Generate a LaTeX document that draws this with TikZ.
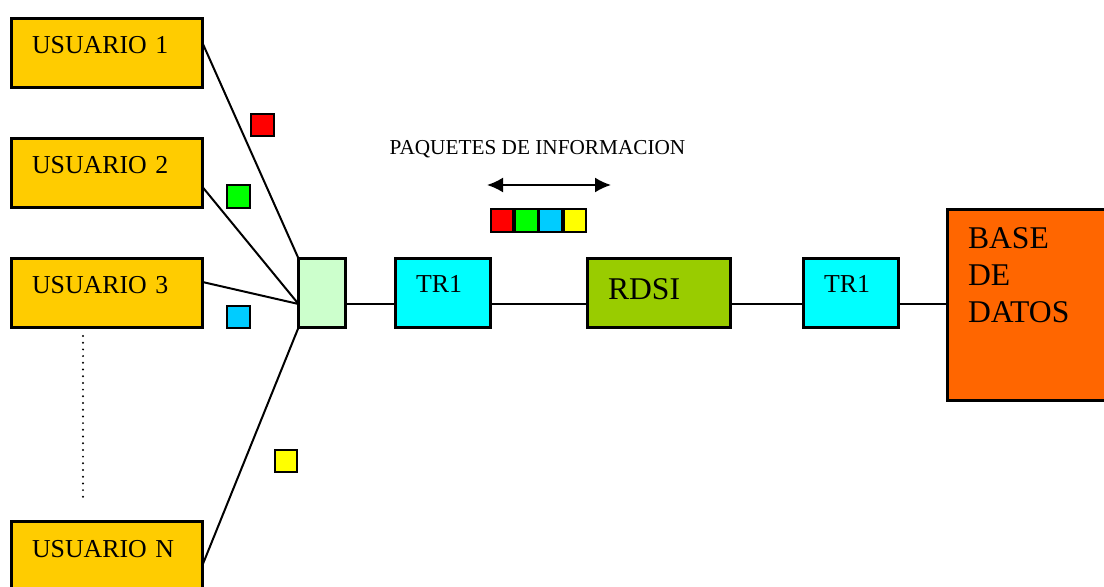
\documentclass[tikz,border=0pt]{standalone}
\usepackage{fontspec}
\setmainfont{Liberation Serif}
\usetikzlibrary{arrows.meta,calc}

\newlength{\pxl}
\setlength{\pxl}{0.02cm}

\definecolor{userfill}{HTML}{FFCC00}
\definecolor{trfill}{HTML}{00FFFF}
\definecolor{rdsifill}{HTML}{99CC00}
\definecolor{basefill}{HTML}{FF6600}
\definecolor{hubfill}{HTML}{CCFFCC}
\definecolor{pktgreen}{HTML}{00FF00}
\definecolor{pktcyan}{HTML}{00CCFF}
\definecolor{pktyellow}{HTML}{FFFF00}

\begin{document}
\begin{tikzpicture}[x = 0.02cm, y = -0.02cm, > = {Latex[length = 0.32cm, width = 0.3cm]},
	box/.style = {draw, line width = 3\pxl, anchor = north west, outer sep = 0pt, inner ysep = 0pt, inner xsep = 20.5\pxl, align = left},
	userbox/.style = {box, fill = userfill, text width = 150\pxl, text height = 35.5\pxl, text depth = 33.5\pxl, font = \fontsize{14.7}{17}\selectfont},
	trbox/.style = {box, fill = trfill, text width = 54\pxl, text height = 34.5\pxl, text depth = 34.5\pxl, font = \fontsize{14.7}{17}\selectfont},
	pkt/.style = {draw, line width = 2\pxl, minimum size = 22.5\pxl, inner sep = 0pt},
	link/.style = {line width = 2\pxl}]

	\useasboundingbox (0, 0) rectangle (1104, 587);

	% Users

	\node [userbox] (u1) at (11.5, 18.5) {USUARIO 1};
	\node [userbox] (u2) at (11.5, 138.5) {USUARIO 2};
	\node [userbox] (u3) at (11.5, 258.5) {USUARIO 3};
	\node [userbox] (un) at (11.5, 521.5) {USUARIO N};

	\draw [line width = 2.2\pxl, line cap = round, dash pattern = on 0pt off 6.7\pxl] (83, 336) -- (83, 497);

	% Line chain

	\node [box, fill = hubfill, minimum width = 47\pxl, minimum height = 69\pxl] (hub) at (298.5, 258.5) {};
	\node [trbox] (tr1a) at (395.5, 258.5) {TR1};
	\node [box, fill = rdsifill, text width = 102\pxl, text height = 40.5\pxl, text depth = 28.5\pxl, font = \fontsize{18}{21}\selectfont] (rdsi) at (587.5, 258.5) {RDSI};
	\node [trbox] (tr1b) at (803.5, 258.5) {TR1};
	\node [box, fill = basefill, text width = 120\pxl, text height = 39.5\pxl, text depth = 151.5\pxl, font = \fontsize{18}{21}\selectfont] (base) at (947.5, 209.5) {BASE\\DE\\DATOS};

	\coordinate (hubin) at ($(hub.west) + (0, 11)$);

	\draw [link] ($(u1.east) + (0, -10)$) -- (hub.north west);
	\draw [link] ($(u2.east) + (0, 14)$) -- (hubin);
	\draw [link] ($(u3.east) + (0, -11)$) -- (hubin);
	\draw [link] ($(un.east) + (0, 9)$) -- (hub.south west);

	\foreach \a/\b in {hub/tr1a, tr1a/rdsi, rdsi/tr1b, tr1b/base}
		\draw [line width = 2.5\pxl] (\a.east |- hubin) -- (\b.west |- hubin);

	% Packets

	\node [pkt, fill = red] (p1) at (262.5, 125) {};
	\node [pkt, fill = pktgreen] (p2) at (238.5, 196.5) {};
	\node [pkt, fill = pktcyan] (p3) at (238.5, 317) {};
	\node [pkt, fill = pktyellow] (pn) at (286, 461) {};

	\node [font = \fontsize{12.1}{14}\selectfont, anchor = base] (title) at (537.5, 155) {PAQUETES DE INFORMACION};

	\coordinate (arrl) at (487, 185);
	\coordinate (arrr) at (611, 185);
	\draw [<->, line width = 2\pxl] (arrl) -- (arrr);

	\foreach \c [count = \i] in {red, pktgreen, pktcyan, pktyellow}
		\node [pkt, fill = \c] (row\i) at ({502 + 24.25 * (\i - 1)}, 220.5) {};

\end{tikzpicture}
\end{document}
